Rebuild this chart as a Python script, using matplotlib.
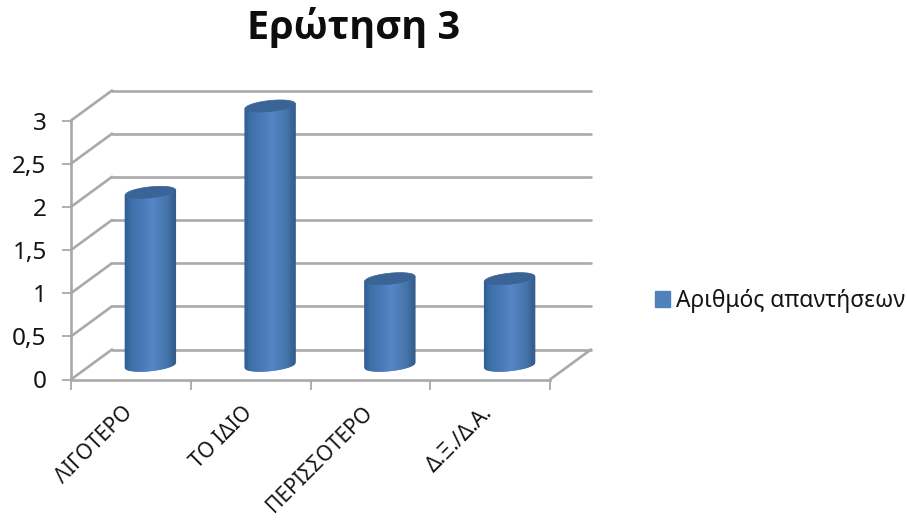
import numpy as np
import matplotlib
matplotlib.use("Agg")
import matplotlib.pyplot as plt
from matplotlib.collections import PolyCollection
from matplotlib.colors import LinearSegmentedColormap
from matplotlib.patches import Patch, Polygon
from matplotlib.transforms import Affine2D

categories = ["ΛΙΓΟΤΕΡΟ", "ΤΟ ΙΔΙΟ", "ΠΕΡΙΣΣΟΤΕΡΟ", "Δ.Ξ./Δ.Α."]
answers = [2, 3, 1, 1]
y_ticks = [0, 0.5, 1, 1.5, 2, 2.5, 3]
y_tick_labels = ["0", "0,5", "1", "1,5", "2", "2,5", "3"]
title = "Ερώτηση 3"
series_name = "Αριθμός απαντήσεων"

W, H = 907, 520
GRID = "#a9a9a9"
TEXT = "#141414"
plt.rcParams["font.family"] = ["Noto Sans", "DejaVu Sans"]

fig = plt.figure(figsize=(W / 100, H / 100), dpi=100, facecolor="white")
left, right, top, bottom = 71, 550, 120.5, 379.5
ax = fig.add_axes([left / W, 1 - bottom / H, (right - left) / W, (bottom - top) / H])
ax.set_xlim(-0.5, 3.5)
ax.set_ylim(0, 3)
ax.patch.set_visible(False)

# Pixel size of one data unit, used to shape the cylinders
ux = (right - left) / 4
uy = (bottom - top) / 3

# Depth of the pseudo-3D box and of the cylinder row
wall = ax.transData + Affine2D().translate(41, 30)
row = ax.transData + Affine2D().translate(19.5, 14.5)
inv = ax.transData.inverted()


def connector(x, v):
    """Diagonal from the front plane to the back wall at one axis position."""
    q1 = inv.transform(wall.transform((x, v)))
    ax.plot([x, q1[0]], [v, q1[1]], color=GRID, lw=1.9, clip_on=False, zorder=1,
            solid_capstyle="round")


# Back wall gridlines and the diagonals on the side wall and floor
for v in y_ticks:
    ax.plot([-0.5, 3.5], [v, v], color=GRID, lw=1.9, transform=wall, clip_on=False, zorder=1,
            solid_capstyle="round")
    connector(-0.5, v)
connector(3.5, 0)

# Cylinders: shaded vertical strips topped by a darker elliptical lid
shade = LinearSegmentedColormap.from_list(
    "cyl", [(0, "#2f5d92"), (0.12, "#3d6fa9"), (0.55, "#5585c6"), (0.85, "#4675ab"), (1, "#335d8b")]
)
half_w, half_h, tilt = 25.0, 5.5, 2.5
for i, v in enumerate(answers):
    edges = np.linspace(-1, 1, 61)
    strips, colors = [], []
    for a, b in zip(edges[:-1], edges[1:]):
        low = [-half_h * np.sqrt(1 - s * s) + tilt * s for s in (a, b)]
        up = [tilt * a, tilt * b]
        xa, xb = i + a * half_w / ux, i + b * half_w / ux
        strips.append([(xa, low[0] / uy), (xb, low[1] / uy), (xb, v + up[1] / uy), (xa, v + up[0] / uy)])
        colors.append(shade((a + b) / 4 + 0.5))
    ax.add_collection(PolyCollection(strips, facecolors=colors, edgecolors=colors, linewidths=1.0,
                                     transform=row, clip_on=False, zorder=3))
    th = np.linspace(0, 2 * np.pi, 80)
    lid_x = i + half_w * np.cos(th) / ux
    lid_y = v + (half_h * np.sin(th) + tilt * np.cos(th)) / uy
    ax.add_patch(Polygon(np.column_stack([lid_x, lid_y]), closed=True, facecolor="#3a6496",
                         edgecolor="#3a6496", lw=0.5, transform=row, clip_on=False, zorder=4))

# Axes frame
for side in ("top", "right"):
    ax.spines[side].set_visible(False)
for side in ("left", "bottom"):
    ax.spines[side].set_color(GRID)
    ax.spines[side].set_linewidth(1.9)
    ax.spines[side].set_zorder(2)

ax.set_yticks(y_ticks, y_tick_labels)
ax.tick_params(axis="y", length=6.5, width=1.3, color=GRID, labelsize=17.5, labelcolor=TEXT, pad=11)
ax.set_xticks(range(len(categories)))
ax.set_xticklabels(categories, rotation=45, ha="right", va="center", rotation_mode="anchor",
                   fontsize=15.2, color=TEXT)
ax.tick_params(axis="x", which="major", length=0, pad=22)
for label in ax.get_xticklabels():
    label.set_transform(label.get_transform() + Affine2D().translate(-1, 0))
ax.set_xticks(np.arange(-0.5, 4), minor=True)
ax.tick_params(axis="x", which="minor", length=7, width=1.3, color=GRID)

fig.text(353.5 / W, 1 - 28 / H, title, ha="center", va="center", fontsize=28.5, fontweight="bold",
         family=["Open Sans", "Liberation Sans", "DejaVu Sans"], color="#0d0d0d")

fig.legend(handles=[Patch(facecolor="#4f81bd", edgecolor="#4f81bd", label=series_name)],
           loc="center left", bbox_to_anchor=(655 / W, 1 - 301 / H), frameon=False,
           fontsize=16.4, handlelength=0.64, handleheight=0.64, handletextpad=0.3, labelcolor=TEXT,
           borderpad=0, borderaxespad=0)

fig.savefig("out.png", dpi=100)
